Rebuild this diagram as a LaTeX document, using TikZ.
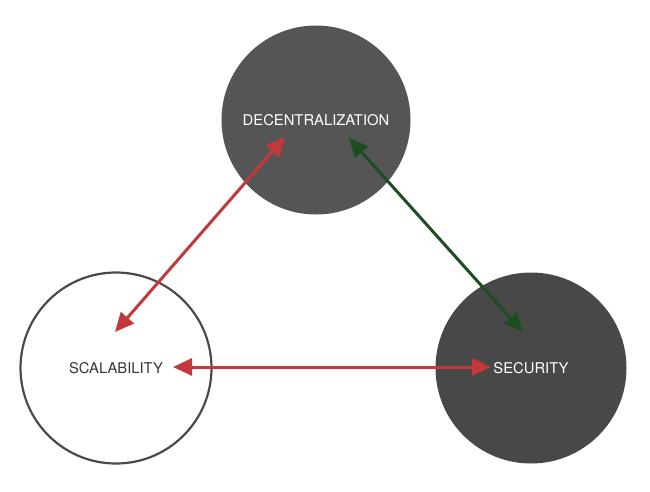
\documentclass[tikz,border=0pt]{standalone}
\usepackage{fontspec}
\setmainfont{TeX Gyre Heros}
\usetikzlibrary{arrows.meta}
\definecolor{discdark}{HTML}{555555}
\definecolor{discdeep}{HTML}{484848}
\definecolor{rimgray}{HTML}{4A4A4A}
\definecolor{labelgray}{HTML}{333833}
\definecolor{linkred}{HTML}{C3393B}
\definecolor{linkgreen}{HTML}{1E4D22}
\tikzset{
  disc/.style={circle, minimum size=#1, inner sep=0pt, font=\fontsize{14.8}{17}\selectfont},
  link/.style={line width=3pt, {Triangle[length=19pt,width=17pt]}-{Triangle[length=19pt,width=17pt]}},
}

\begin{document}
\begin{tikzpicture}[x=1pt, y=-1pt]
			%%%%% START %%%%%
			
			\useasboundingbox (0, 0) rectangle (650, 491);
			
			\node[disc=189pt, fill=discdark, text=white] (dec) at (316, 120) {DECENTRALIZATION};
			\node[disc=191pt, draw=rimgray, line width=2.2pt, text=labelgray] (scal) at (116, 368) {SCALABILITY};
			\node[disc=191pt, fill=discdeep, text=white] (sec) at (531, 368) {SECURITY};
			
			\coordinate (dec-left) at (285, 137);
			\coordinate (dec-right) at (349, 138);
			\coordinate (scal-top) at (115, 332);
			\coordinate (scal-in) at (173, 367);
			\coordinate (sec-top) at (523, 332);
			\coordinate (sec-in) at (491, 367);
			
			\draw[link, linkred] (dec-left) -- (scal-top);
			\draw[link, linkgreen] (dec-right) -- (sec-top);
			\draw[link, linkred] (scal-in) -- (sec-in);
			
			%%%%% END %%%%%
		\end{tikzpicture}
\end{document}
